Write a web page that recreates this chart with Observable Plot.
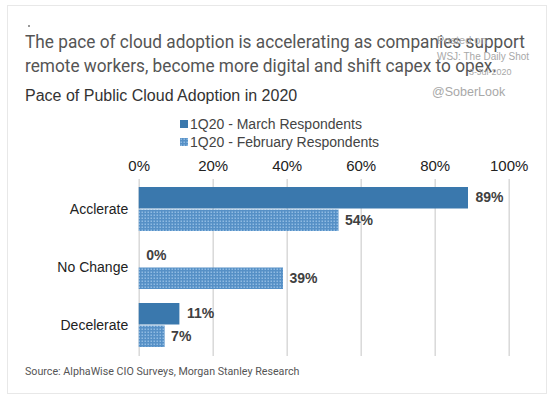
<!DOCTYPE html>
<html>
<head>
<meta charset="utf-8">
<script src="https://cdn.jsdelivr.net/npm/d3@7"></script>
<script src="https://cdn.jsdelivr.net/npm/@observablehq/plot@0.6"></script>
<style>
  html, body { margin: 0; padding: 0; background: #ffffff; }
  #page { position: relative; width: 558px; height: 396px; overflow: hidden; background: #ffffff; font-family: "Liberation Sans", Arial, sans-serif; }
  #card { position: absolute; left: 7px; top: 5px; width: 540px; height: 389px; border: 1px solid #e8e8e8; box-sizing: border-box; }
  .abs { position: absolute; white-space: nowrap; }
  #title { left: 25px; top: 30px; font-family: Roboto, sans-serif; font-size: 19px; color: #555; line-height: 24px; transform-origin: 0 0; }
  #title span { display: block; }
  #subtitle { left: 25px; top: 87px; font-size: 16px; color: #333; }
  .wm { color: #a8a8a8; font-family: "Liberation Sans", Arial, sans-serif; }
  #source { left: 25px; top: 365px; font-family: Roboto, sans-serif; font-size: 10.7px; color: #555; }
  .leg { font-size: 14px; color: #444; display: flex; align-items: center; }
  .leg svg { margin-right: 2px; }
  #chart { position: absolute; left: 0; top: 145px; }
</style>
</head>
<body>
<div id="page">
  <div id="card"></div>
  <div class="abs" style="left:28px;top:25px;width:2px;height:2px;background:#999;"></div>
  <div class="abs" id="title"></div>
  <div class="abs" id="subtitle"></div>
  <div class="abs wm" style="left:437px;top:34px;font-size:11px;">Posted on</div>
  <div class="abs wm" style="left:437px;top:51px;font-size:10px;">WSJ: The Daily Shot</div>
  <div class="abs wm" style="left:469px;top:67px;font-size:9px;">3-Jul-2020</div>
  <div class="abs wm" style="left:432px;top:85px;font-size:12.5px;">@SoberLook</div>
  <div id="legend"></div>
  <div id="chart"></div>
  <div class="abs" id="source"></div>
</div>
<script>
const titleLines = ["The pace of cloud adoption is accelerating as companies support", "remote workers, become more digital and shift capex to opex."];
const subtitle = "Pace of Public Cloud Adoption in 2020";
const sourceText = "Source: AlphaWise CIO Surveys, Morgan Stanley Research";
const categories = ["Acclerate", "No Change", "Decelerate"];
const seriesNames = ["1Q20 - March Respondents", "1Q20 - February Respondents"];
const marchValues = [89, 0, 11];
const februaryValues = [54, 39, 7];
const xTicks = [0, 20, 40, 60, 80, 100];

const marchColor = "#3a78ad";
const patternFill = "url(#febDots)";

const titleEl = document.getElementById("title");
titleLines.forEach(line => {
  const s = document.createElement("span");
  s.textContent = line;
  titleEl.appendChild(s);
});
document.getElementById("subtitle").textContent = subtitle;
document.getElementById("source").textContent = sourceText;

// legend
const legend = document.getElementById("legend");
const legendFills = [marchColor, patternFill];
seriesNames.forEach((name, i) => {
  const row = document.createElement("div");
  row.className = "abs leg";
  row.style.left = "180px";
  row.style.top = (116 + i * 17.5) + "px";
  row.innerHTML = `<svg width="8" height="8"><rect width="8" height="8" fill="${legendFills[i]}"></rect></svg><span>${name}</span>`;
  legend.appendChild(row);
});

const march = categories.map((c, i) => ({category: c, value: marchValues[i]}));
const february = categories.map((c, i) => ({category: c, value: februaryValues[i]}));

const half = 22.5;
const chart = Plot.plot({
  width: 558,
  height: 220,
  marginLeft: 138.7,
  marginRight: 49.3,
  marginTop: 34,
  marginBottom: 9,
  style: {fontFamily: '"Liberation Sans", Arial, sans-serif', background: "transparent", overflow: "visible"},
  x: {domain: [0, 100], axis: null},
  y: {domain: categories, paddingInner: 0.237, paddingOuter: 0.119, axis: null},
  marks: [
    Plot.gridX(xTicks, {stroke: "#d9d9d9", strokeOpacity: 1, strokeWidth: 1.5}),
    Plot.axisX(xTicks, {anchor: "top", tickSize: 0, tickPadding: 9, tickFormat: d => d + "%", fontSize: 15, fill: "#222", label: null}),
    Plot.axisY({anchor: "left", tickSize: 0, tickPadding: 11, fontSize: 14, fill: "#222", label: null}),
    Plot.barX(march, {x: "value", y: "category", fill: marchColor, insetBottom: half}),
    Plot.barX(february, {x: "value", y: "category", fill: patternFill, insetTop: half}),
    Plot.text(march, {x: "value", y: "category", text: d => d.value + "%", dx: 7, dy: -11.5, textAnchor: "start", fontWeight: "bold", fontSize: 14, fill: "#404040"}),
    Plot.text(february, {x: "value", y: "category", text: d => d.value + "%", dx: 6, dy: 11.5, textAnchor: "start", fontWeight: "bold", fontSize: 14, fill: "#404040"})
  ]
});

// dotted pattern for the February series
const ns = "http://www.w3.org/2000/svg";
const defs = document.createElementNS(ns, "defs");
defs.innerHTML = `<pattern id="febDots" patternUnits="userSpaceOnUse" width="3" height="3">
  <rect width="3" height="3" fill="#5690c6"></rect>
  <rect x="0.5" y="0.5" width="1.5" height="1.5" fill="#8fbbe2"></rect>
</pattern>`;
chart.insertBefore(defs, chart.firstChild);
document.getElementById("chart").appendChild(chart);

// fit the title's first line to the reference width (about 500px)
const firstLine = titleEl.firstChild;
firstLine.style.display = "inline-block";
const w = firstLine.getBoundingClientRect().width;
firstLine.style.display = "block";
titleEl.style.transform = `scaleX(${500 / w})`;
</script>
</body>
</html>
